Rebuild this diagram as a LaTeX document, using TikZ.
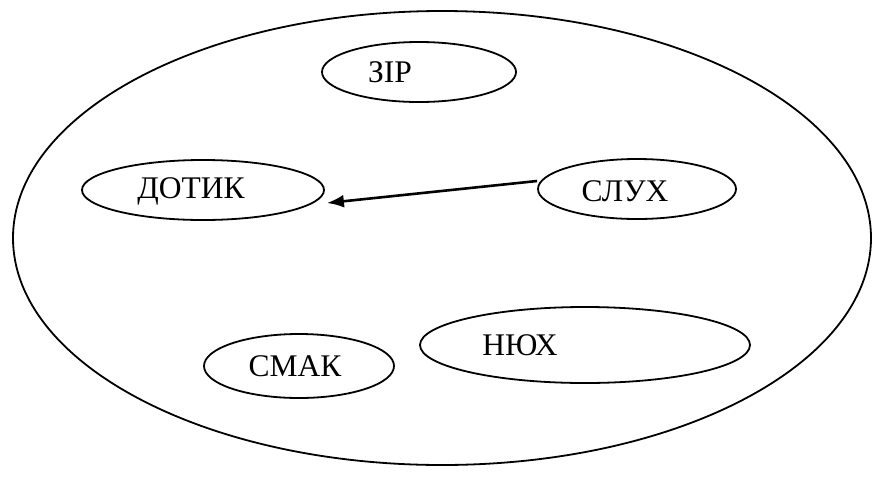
\documentclass[tikz,border=0pt]{standalone}
\usepackage{fontspec}
\setmainfont{Liberation Serif}
\usetikzlibrary{shapes.geometric,arrows.meta}
\begin{document}
\begin{tikzpicture}[x=1pt,y=-1pt,
  sense/.style={draw,ellipse,line width=1.8pt,inner sep=0pt},
  word/.style={font=\fontsize{31.5}{34}\selectfont,inner sep=0pt},
  link/.style={line width=2.6pt,-{Latex[length=17pt,width=13pt]}}]
\useasboundingbox (0,0) rectangle (873,491);
% outer boundary
\node[sense,minimum width=858,minimum height=454] (all) at (442,238) {};
% inner ellipses
\node[sense,minimum width=194,minimum height=60] (zir) at (419,72) {};
\node[sense,minimum width=242,minimum height=60] (dotyk) at (203,190) {};
\node[sense,minimum width=198,minimum height=60] (slukh) at (637,189) {};
\node[sense,minimum width=190,minimum height=64] (smak) at (299,366) {};
\node[sense,minimum width=330,minimum height=76] (niukh) at (585,345) {};
% labels
\node[word] (tzir) at (390,72) {ЗІР};
\node[word] (tdotyk) at (191,191) {ДОТИК};
\node[word] (tslukh) at (625,191) {СЛУХ};
\node[word] (tsmak) at (295,366) {СМАК};
\node[word] (tniukh) at (520,345) {НЮХ};
% connector
\draw[link] ([yshift=8pt]slukh.west) -- ([xshift=2pt,yshift=-13pt]dotyk.east);
\end{tikzpicture}
\end{document}
